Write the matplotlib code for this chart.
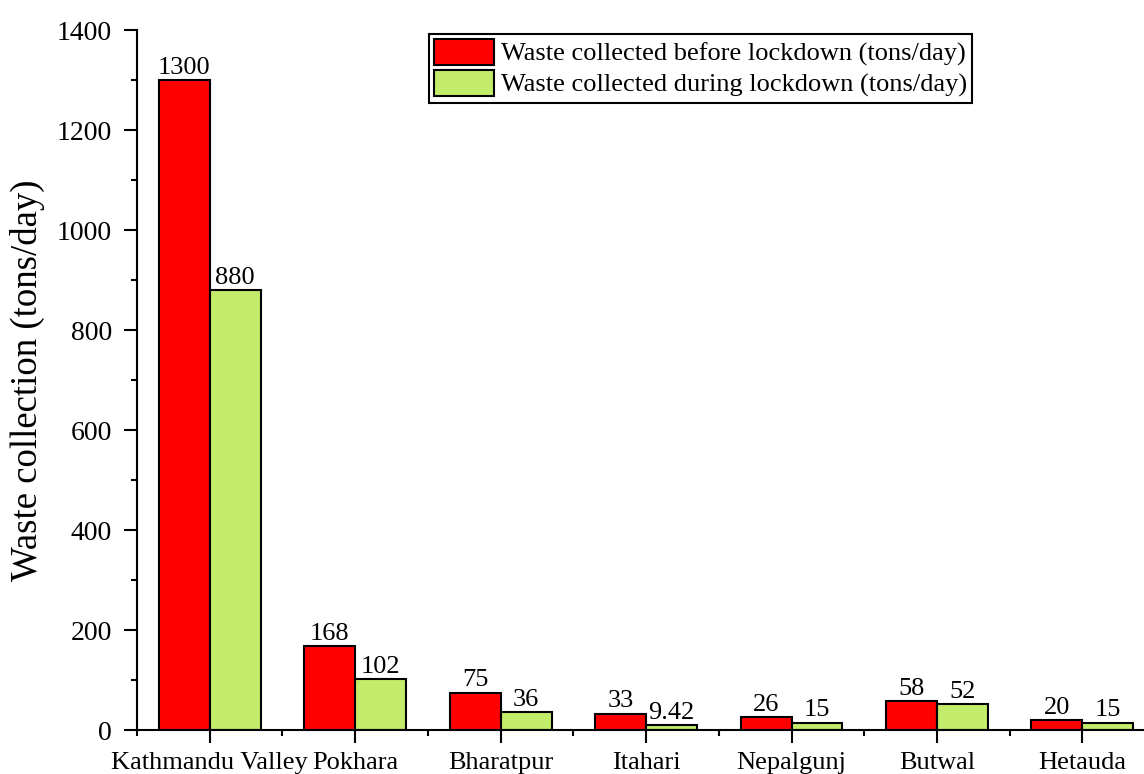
import numpy as np
import matplotlib.pyplot as plt
from matplotlib.ticker import MultipleLocator, FixedLocator

cities = ['Kathmandu Valley', 'Pokhara', 'Bharatpur', 'Itahari',
          'Nepalgunj', 'Butwal', 'Hetauda']
before = [1300, 168, 75, 33, 26, 58, 20]
during = [880, 102, 36, 9.42, 15, 52, 15]
before_labels = ['1300', '168', '75', '33', '26', '58', '20']
during_labels = ['880', '102', '36', '9.42', '15', '52', '15']

plt.rcParams['font.family'] = ['Liberation Serif', 'DejaVu Serif']

fig = plt.figure(figsize=(11.44, 7.74), dpi=100)
ax = fig.add_axes([0.1198, 0.0568, 0.8899, 0.9044])

x = np.arange(len(cities))
w = 0.35
red = '#ff0000'
green = '#c2ec6a'

b1 = ax.bar(x - w / 2, before, w, color=red, edgecolor='black', linewidth=1.5,
            label='Waste collected before lockdown (tons/day)')
b2 = ax.bar(x + w / 2, during, w, color=green, edgecolor='black', linewidth=1.5,
            label='Waste collected during lockdown (tons/day)')

# value labels on top of bars
ax.bar_label(b1, labels=before_labels, padding=1, fontsize=19)
ax.bar_label(b2, labels=during_labels, padding=1, fontsize=19)

ax.set_xlim(-0.5, 6.5)
ax.set_ylim(0, 1400)
ax.set_xticks(x)
ax.set_xticklabels(cities)
ax.xaxis.set_minor_locator(FixedLocator(np.arange(-0.5, 7, 1)))
ax.yaxis.set_major_locator(MultipleLocator(200))
ax.yaxis.set_minor_locator(MultipleLocator(100))

ax.spines['top'].set_visible(False)
ax.spines['right'].set_visible(False)
ax.spines['left'].set_linewidth(1.5)
ax.spines['bottom'].set_linewidth(1.5)

ax.tick_params(axis='both', which='major', direction='out', length=9.2,
               width=1.5, labelsize=20)
ax.tick_params(axis='y', which='major', pad=9)
ax.tick_params(axis='x', which='major', pad=6.5, labelsize=19)
ax.tick_params(axis='both', which='minor', direction='out', length=4.5, width=1.5)

ax.set_ylabel('Waste collection (tons/day)', fontsize=26.5, labelpad=8)

leg = ax.legend(loc='upper left', bbox_to_anchor=(0.375, 0.956),
                bbox_transform=fig.transFigure, fontsize=19,
                fancybox=False, edgecolor='black', framealpha=1,
                handlelength=2.25, handleheight=1.1, labelspacing=0.15,
                handletextpad=0.28, borderpad=0.2, borderaxespad=0)
leg.get_frame().set_linewidth(1.5)

fig.savefig('out.png', dpi=100)
